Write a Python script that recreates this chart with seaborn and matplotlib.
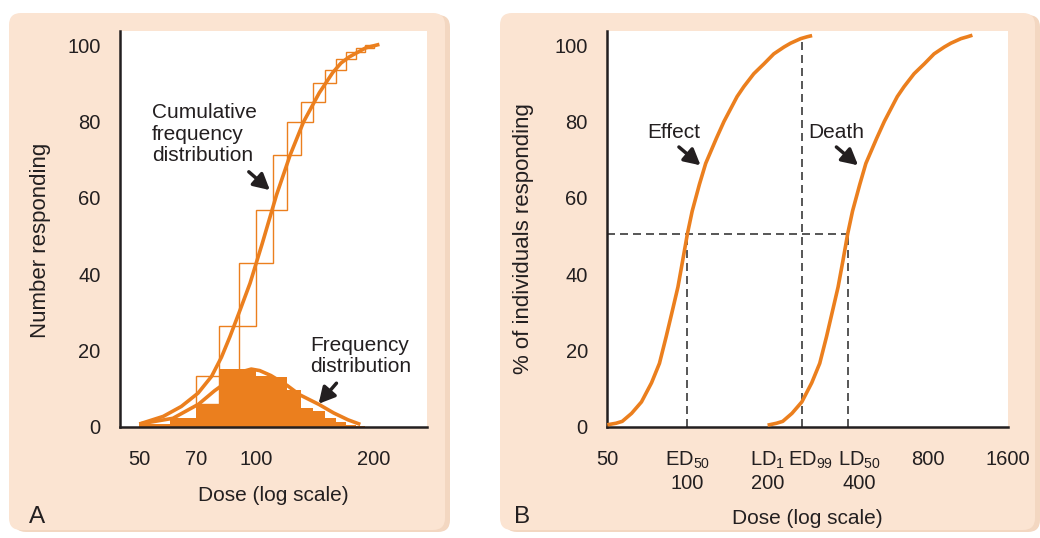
import numpy as np
import matplotlib
matplotlib.use("Agg")
import matplotlib.pyplot as plt
import seaborn as sns
from matplotlib.patches import FancyBboxPatch
from matplotlib.ticker import NullFormatter
from matplotlib.transforms import ScaledTranslation

# ---------------- data ----------------
# Panel A: frequency distribution (filled bars), linear 10-unit dose bins
freq_edges = [50, 60, 70, 80, 90, 100, 110, 120, 130, 140, 150, 160, 170, 180, 190]
freq_counts = [0.7, 2.3, 6.0, 15.0, 15.0, 13.2, 12.9, 9.7, 4.9, 4.0, 2.2, 1.3, 0.5, 0.2]

# Panel A: cumulative staircase (outlined boxes)
cum_edges = [70, 80, 90, 100, 110, 120, 130, 140, 150, 160, 170, 180, 190, 200]
cum_levels = [6.0, 13.2, 26.3, 43.0, 56.8, 71.2, 79.9, 85.1, 90.2, 93.5, 96.3, 98.2, 99.3, 100.0]

# Panel A: smooth curves
cum_curve_dose = [50, 57.6, 64.1, 70.8, 76.7, 81.3, 85.5, 90.8, 96.3, 103.5, 112.6, 122.1,
                  132.2, 145.1, 157.1, 165, 173.2, 191.2, 207.1]
cum_curve_value = [0.7, 2.7, 5.3, 8.8, 13.2, 18.2, 23.6, 30.6, 37.6, 48.0, 60.7, 71.2,
                   79.9, 87.5, 92.8, 95.3, 96.9, 99.3, 100.2]
bell_dose = [50, 61, 71, 78, 82.5, 91, 97, 102, 109, 120, 129, 145, 158, 172, 185]
bell_value = [0.7, 2.2, 5.9, 9.4, 11.2, 14.3, 15.1, 14.7, 13.4, 10.8, 8.4, 5.8, 3.6, 1.8, 0.6]

# Panel B: quantal dose-response curves
effect_dose = [50, 53.9, 56.9, 61.7, 67.2, 73.3, 78.5, 83.2, 87.3, 92.1, 96.0, 100, 104.2,
               110.9, 117.1, 128.5, 137.2, 153.6, 162.8, 177.5, 193.9, 211, 230.5, 244,
               266.3, 282, 294]
effect_pct = [0.5, 0.9, 1.4, 3.5, 6.5, 11.5, 16.6, 23.6, 29.7, 36.6, 43.6, 50.6, 56.5,
              63.5, 69.0, 75.6, 80.0, 86.5, 89.1, 92.5, 95.1, 97.7, 99.5, 100.5,
              101.7, 102.2, 102.5]
death_dose = [200, 216, 228, 247, 269, 293, 314, 333, 349, 368, 384, 400, 417,
              444, 468, 514, 549, 614, 651, 710, 776, 844, 922, 976,
              1065, 1128, 1176]
death_pct = [0.4, 0.9, 1.4, 3.5, 6.5, 11.5, 16.6, 23.6, 29.7, 36.6, 43.6, 50.6, 56.5,
             63.5, 69.0, 75.6, 80.0, 86.5, 89.1, 92.5, 95.1, 97.7, 99.5, 100.5,
             101.7, 102.2, 102.6]

ED50, LD50, ED99, LD1 = 100, 400, 270, 200
HALF = 50.6
ED99_TOP = 102.2

a_major = [50, 70, 100, 200]
a_minor = [60, 80, 90, 110, 120, 130, 140, 150, 160, 170, 180, 190]
b_ticks = [50, ED50, LD1, ED99, LD50, 800, 1600]
b_labels = ["50", "ED$_{50}$\n100", "LD$_{1}$\n200", "ED$_{99}$", "LD$_{50}$\n400", "800", "1600"]
y_ticks = [0, 20, 40, 60, 80, 100]

ORANGE = "#EB7F1E"
INK = "#231F20"
PEACH = "#FBE4D2"
SHADOW = "#F3D7C1"

sns.set_theme(style="white")
plt.rcParams["font.family"] = ["Liberation Sans", "DejaVu Sans"]
plt.rcParams["mathtext.default"] = "regular"

fig = plt.figure(figsize=(10.4, 5.38), dpi=100)
fig.patch.set_facecolor("white")

# peach panel boxes with a soft shadow (inches)
for x0, w in [(0.09, 4.36), (5.00, 5.35)]:
    sh = FancyBboxPatch((x0 + 0.05, 0.06), w, 5.17, boxstyle="round,pad=0,rounding_size=0.12",
                        transform=fig.dpi_scale_trans, facecolor=SHADOW, edgecolor="none", zorder=-2)
    bx = FancyBboxPatch((x0, 0.08), w, 5.17, boxstyle="round,pad=0,rounding_size=0.12",
                        transform=fig.dpi_scale_trans, facecolor=PEACH, edgecolor="none", zorder=-1)
    fig.patches.extend([sh, bx])

axA = fig.add_axes([120 / 1040, 111.3 / 538, 306.7 / 1040, 395.7 / 538])
axB = fig.add_axes([607.3 / 1040, 111.3 / 538, 400.7 / 1040, 395.7 / 538])


def style_axes(ax):
    ax.set_facecolor("white")
    for s in ["top", "right"]:
        ax.spines[s].set_visible(False)
    for s in ["left", "bottom"]:
        ax.spines[s].set_linewidth(1.8)
        ax.spines[s].set_color(INK)
    ax.tick_params(axis="both", which="major", direction="out", width=1.0, color=INK,
                   labelsize=14.5, labelcolor=INK)
    ax.tick_params(axis="y", length=7, pad=7)
    ax.tick_params(axis="x", which="major", length=8, pad=8.5)
    ax.set_yticks(y_ticks)
    ax.set_ylim(0, 103.7)


curve_kw = dict(color=ORANGE, linewidth=2.6, sort=False, estimator=None, zorder=4,
                solid_joinstyle="round", solid_capstyle="butt")

# ---------------- Panel A ----------------
axA.set_xscale("log")
axA.bar(freq_edges[:-1], freq_counts, width=np.diff(freq_edges), align="edge",
        color=ORANGE, linewidth=0, zorder=2)
axA.bar(cum_edges[:-1], np.diff(cum_levels), bottom=cum_levels[:-1], width=np.diff(cum_edges),
        align="edge", fill=False, edgecolor=ORANGE, linewidth=1.0, zorder=3)
sns.lineplot(x=cum_curve_dose, y=cum_curve_value, ax=axA, **curve_kw)
sns.lineplot(x=bell_dose, y=bell_value, ax=axA, **curve_kw)
style_axes(axA)
axA.set_xlim(44.6, 274)
axA.set_xticks(a_major)
axA.set_xticklabels([str(v) for v in a_major])
axA.set_xticks(a_minor, minor=True)
axA.xaxis.set_minor_formatter(NullFormatter())
axA.tick_params(axis="x", which="minor", direction="out", length=4.5, width=1.0, color=INK)
axA.set_xlabel("Dose (log scale)", fontsize=15, color=INK)
axA.set_ylabel("Number responding", fontsize=16, color=INK)
axA.xaxis.set_label_coords(0.5, -0.15)
axA.yaxis.set_label_coords(-0.226, 0.47)

arrow = dict(arrowstyle="-|>,head_length=0.6,head_width=0.32", lw=2.5, color=INK,
             shrinkA=0, shrinkB=0, mutation_scale=16)
axA.text(53.9, 76.7, "Cumulative\nfrequency\ndistribution", ha="left", va="center",
         fontsize=15, color=INK, linespacing=1.18)
axA.annotate("", xy=(108.3, 62.0), xytext=(95.6, 66.8), arrowprops=arrow)
axA.text(137.3, 18.5, "Frequency\ndistribution", ha="left", va="center",
         fontsize=15, color=INK, linespacing=1.13)
axA.annotate("", xy=(144.5, 6.0), xytext=(160.6, 11.4), arrowprops=arrow)

# ---------------- Panel B ----------------
axB.set_xscale("log")
dash = dict(color="#3A3A3A", linewidth=1.2, linestyle=(0, (4.8, 3)), zorder=2)
axB.plot([50, LD50], [HALF, HALF], **dash)
axB.plot([ED50, ED50], [0, HALF], **dash)
axB.plot([LD50, LD50], [0, HALF], **dash)
axB.plot([ED99, ED99], [0, ED99_TOP], **dash)
sns.lineplot(x=effect_dose, y=effect_pct, ax=axB, **curve_kw)
sns.lineplot(x=death_dose, y=death_pct, ax=axB, **curve_kw)
style_axes(axB)
axB.set_xlim(50, 1600)
axB.set_xticks(b_ticks)
axB.set_xticklabels(b_labels)
axB.set_xticks([], minor=True)
axB.xaxis.set_minor_formatter(NullFormatter())
axB.set_xlabel("Dose (log scale)", fontsize=15, color=INK)
axB.set_ylabel("% of individuals responding", fontsize=16, color=INK)
axB.xaxis.set_label_coords(0.5, -0.207)
axB.yaxis.set_label_coords(-0.183, 0.476)
# nudge the crowded labels apart the way the original does
for lab, dx in zip(axB.get_xticklabels(), [0, 0, 0, 8, 12, 0, 0]):
    if dx:
        lab.set_transform(lab.get_transform() + ScaledTranslation(dx / 100, 0, fig.dpi_scale_trans))

axB.text(70.4, 77.2, "Effect", ha="left", va="center", fontsize=15, color=INK)
axB.annotate("", xy=(112, 68.5), xytext=(92.9, 73.3), arrowprops=arrow)
axB.text(283.7, 77.2, "Death", ha="left", va="center", fontsize=15, color=INK)
axB.annotate("", xy=(437.5, 68.5), xytext=(362.7, 73.3), arrowprops=arrow)

fig.text(37 / 1040, 1 - 517 / 538, "A", fontsize=17.5, color=INK, ha="center", va="center")
fig.text(522 / 1040, 1 - 517 / 538, "B", fontsize=17.5, color=INK, ha="center", va="center")

fig.savefig("out.png", dpi=100, facecolor="white")
